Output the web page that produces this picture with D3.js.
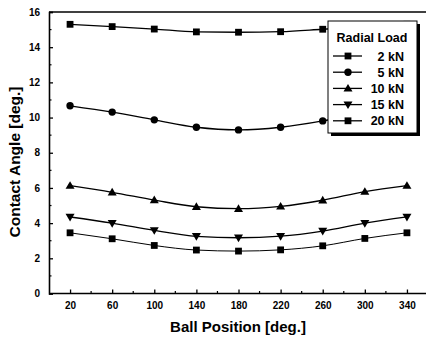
<!DOCTYPE html>
<html>
<head>
<meta charset="utf-8">
<script src="https://cdn.jsdelivr.net/npm/d3@7"></script>
<style>
  html, body { margin: 0; padding: 0; background: #fff; }
  svg { display: block; font-family: "Liberation Sans", Arial, sans-serif; }
</style>
</head>
<body>
<svg id="chart" width="426" height="339"></svg>
<script>
// ---- data ----
const positions = [20, 60, 100, 140, 180, 220, 260, 300, 340];
const seriesNames = ["2 kN", "5 kN", "10 kN", "15 kN", "20 kN"];
const load2 = [15.30, 15.17, 15.03, 14.87, 14.85, 14.88, 15.02, 15.17, 15.30];
const load5 = [10.67, 10.31, 9.87, 9.45, 9.30, 9.45, 9.81, 10.31, 10.67];
const load10 = [6.13, 5.75, 5.31, 4.93, 4.82, 4.95, 5.30, 5.79, 6.13];
const load15 = [4.35, 4.00, 3.59, 3.25, 3.17, 3.26, 3.55, 4.00, 4.35];
const load20 = [3.45, 3.11, 2.73, 2.47, 2.41, 2.48, 2.71, 3.13, 3.45];
const xTicks = [20, 60, 100, 140, 180, 220, 260, 300, 340];
const yTicks = [0, 2, 4, 6, 8, 10, 12, 14, 16];
const markers = ["square", "circle", "triangle", "triangleDown", "square"];

const allSeries = [load2, load5, load10, load15, load20];

const svg = d3.select("#chart");
const x = d3.scaleLinear().domain([0, 360]).range([49, 428]);
const y = d3.scaleLinear().domain([0, 16]).range([293.5, 12]);

// frame
const g = svg.append("g");
g.append("line").attr("x1", 49).attr("x2", 426).attr("y1", 12).attr("y2", 12)
  .attr("stroke", "#000").attr("stroke-width", 1.5);

// axes with inward ticks
const xAxis = d3.axisBottom(x).tickValues(xTicks).tickSize(-4).tickPadding(8)
  .tickFormat(d3.format("d"));
const gx = g.append("g").attr("transform", `translate(0,${y(0)})`).call(xAxis);
gx.select(".domain").attr("d", `M49,0H426`).attr("stroke-width", 1.6);
// minor x ticks
g.selectAll(".xminor").data(d3.range(40, 360, 40)).enter().append("line")
  .attr("x1", d => x(d)).attr("x2", d => x(d))
  .attr("y1", y(0)).attr("y2", y(0) - 2.5).attr("stroke", "#000").attr("stroke-width", 1.2);

const yAxis = d3.axisLeft(y).tickValues(yTicks).tickSize(-4).tickPadding(8)
  .tickFormat(d3.format("d"));
const gy = g.append("g").attr("transform", `translate(${x(0)},0)`).call(yAxis);
gy.select(".domain").attr("stroke-width", 1.6);
g.selectAll(".yminor").data(d3.range(1, 16, 2)).enter().append("line")
  .attr("x1", x(0)).attr("x2", x(0) + 2.5)
  .attr("y1", d => y(d)).attr("y2", d => y(d)).attr("stroke", "#000").attr("stroke-width", 1.2);

svg.selectAll(".tick text").attr("font-size", 10).attr("font-weight", "bold")
  .attr("font-family", "Liberation Sans, Arial, sans-serif").attr("fill", "#000");
gy.selectAll(".tick text").attr("dx", -1);
svg.selectAll(".tick line").attr("stroke-width", 1.3);

// axis titles
svg.append("text").attr("x", 238).attr("y", 332).attr("text-anchor", "middle")
  .attr("font-size", 15).attr("font-weight", "bold").text("Ball Position [deg.]");
svg.append("text").attr("transform", "translate(20,162) rotate(-90)")
  .attr("text-anchor", "middle").attr("font-size", 15.5).attr("font-weight", "bold")
  .text("Contact Angle [deg.]");

// markers
function drawMarker(sel, type, cx, cy) {
  if (type === "square") {
    sel.append("rect").attr("x", cx - 3.4).attr("y", cy - 3.4).attr("width", 6.8).attr("height", 6.8).attr("fill", "#000");
  } else if (type === "circle") {
    sel.append("circle").attr("cx", cx).attr("cy", cy).attr("r", 3.7).attr("fill", "#000");
  } else if (type === "triangle") {
    sel.append("path").attr("d", `M${cx},${cy - 4.5}L${cx + 4.5},${cy + 3.2}L${cx - 4.5},${cy + 3.2}Z`).attr("fill", "#000");
  } else {
    sel.append("path").attr("d", `M${cx},${cy + 4.5}L${cx + 4.5},${cy - 3.2}L${cx - 4.5},${cy - 3.2}Z`).attr("fill", "#000");
  }
}

const line = d3.line().x((d, i) => x(positions[i])).y(d => y(d)).curve(d3.curveMonotoneX);
allSeries.forEach((vals, si) => {
  const sg = svg.append("g");
  sg.append("path").attr("d", line(vals)).attr("fill", "none").attr("stroke", "#000")
    .attr("stroke-width", si === 4 ? 1.0 : 1.3);
  vals.forEach((v, i) => drawMarker(sg, markers[si], x(positions[i]), y(v)));
});

// legend
const lg = svg.append("g");
lg.append("rect").attr("x", 331).attr("y", 24).attr("width", 89).attr("height", 112).attr("fill", "#000");
lg.append("rect").attr("x", 328).attr("y", 21).attr("width", 89).attr("height", 112)
  .attr("fill", "#fff").attr("stroke", "#000").attr("stroke-width", 1);
lg.append("text").attr("x", 372).attr("y", 42).attr("text-anchor", "middle")
  .attr("font-size", 12.5).attr("font-weight", "bold").text("Radial Load");
seriesNames.forEach((name, i) => {
  const ly = 56 + i * 16.2;
  lg.append("line").attr("x1", 333).attr("x2", 362).attr("y1", ly).attr("y2", ly)
    .attr("stroke", "#000").attr("stroke-width", 1.3);
  drawMarker(lg, markers[i], 348, ly);
  lg.append("text").attr("x", 404).attr("y", ly + 4.5).attr("text-anchor", "end")
    .attr("font-size", 12.5).attr("font-weight", "bold").text(name);
});
</script>
</body>
</html>
